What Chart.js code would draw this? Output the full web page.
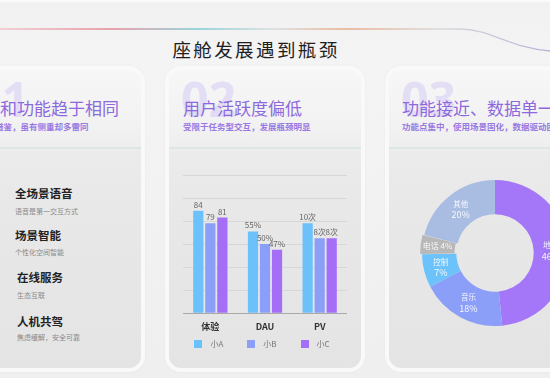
<!DOCTYPE html>
<html>
<head>
<meta charset="utf-8">
<script src="https://cdn.jsdelivr.net/npm/chart.js@4.4.0/dist/chart.umd.min.js"></script>
<style>
  html, body { margin: 0; padding: 0; }
  body {
    width: 550px; height: 378px; overflow: hidden; position: relative;
    background: linear-gradient(to bottom, #ffffff 0px, #f1f1f2 3px, #f4f4f5 60px, #efeff0 378px);
    font-family: "Noto Sans CJK SC", "Noto Sans", sans-serif;
  }
  .abs { position: absolute; white-space: nowrap; line-height: 1; }
  .title { left: 0; width: 512px; text-align: center; top: 40px; font-size: 18.5px; letter-spacing: 2.4px; color: #1e1e1e; }
  .card {
    position: absolute; top: 66px; width: 200px; height: 306px; box-sizing: border-box;
    border: 4px solid #f9f9fa; border-radius: 16px; overflow: hidden;
    background: linear-gradient(to bottom, #f7f7f8 0px, #f1f1f2 60px, #eeeeef 77px, #ebebec 82px, #e8e8e9 140px, #e4e4e5 300px);
    box-shadow: 0 0 3px rgba(0,0,0,0.04);
  }
  .divider { position: absolute; left: 0; right: 0; top: 77px; height: 1.5px; background: #dce7e2; }
  .num { font-family: "Noto Sans", sans-serif; font-weight: 700; font-size: 48px; color: rgba(185,165,245,0.30); }
  .head { font-size: 17px; color: #8d69dd; }
  .sub { font-size: 8.5px; font-weight: 700; color: #9a78e2; }
  .item { font-size: 11.5px; font-weight: 700; color: #222; }
  .desc { font-size: 7px; color: #8a8a8a; }
  canvas { position: absolute; }
</style>
</head>
<body>
<svg class="abs" style="left:0;top:0" width="550" height="70">
  <defs>
    <linearGradient id="lg" x1="0" y1="0" x2="550" y2="0" gradientUnits="userSpaceOnUse">
      <stop offset="0" stop-color="#f2c4cc"/>
      <stop offset="0.2" stop-color="#e58895"/>
      <stop offset="0.36" stop-color="#7fcbd3"/>
      <stop offset="0.5" stop-color="#d8dcdc"/>
      <stop offset="0.63" stop-color="#eaa987"/>
      <stop offset="0.8" stop-color="#dadada"/>
      <stop offset="1" stop-color="#b9b2da"/>
    </linearGradient>
  </defs>
  <path d="M0 29 L460 29 C490 29 510 48 550 51" fill="none" stroke="url(#lg)" stroke-width="1.3"/>
</svg>

<div class="abs title">座舱发展遇到瓶颈</div>

<div class="card" style="left:-55px"><div class="divider"></div></div>
<div class="card" style="left:165px"><div class="divider"></div></div>
<div class="card" style="left:385px"><div class="divider"></div></div>

<div class="abs num" style="left:-26px;top:75px">01</div>
<div class="abs num" style="left:181px;top:75px">02</div>
<div class="abs num" style="left:401px;top:75px">03</div>

<div class="abs head" style="left:0px;top:99px">和功能趋于相同</div>
<div class="abs sub" style="left:-5px;top:122px">借鉴，虽有侧重却多雷同</div>
<div class="abs head" style="left:183px;top:99px">用户活跃度偏低</div>
<div class="abs sub" style="left:183px;top:122px">受限于任务型交互，发展瓶颈明显</div>
<div class="abs head" style="left:402px;top:99px">功能接近、数据单一</div>
<div class="abs sub" style="left:402px;top:122px">功能点集中，使用场景固化，数据驱动困难</div>

<div class="abs item" style="left:15px;top:188px">全场景语音</div>
<div class="abs desc" style="left:15px;top:208px">语音是第一交互方式</div>
<div class="abs item" style="left:15px;top:230px">场景智能</div>
<div class="abs desc" style="left:15px;top:249px">个性化空间智能</div>
<div class="abs item" style="left:17px;top:272px">在线服务</div>
<div class="abs desc" style="left:17px;top:292px">生态互联</div>
<div class="abs item" style="left:17px;top:316px">人机共驾</div>
<div class="abs desc" style="left:17px;top:334px">焦虑缓解，安全可靠</div>

<canvas id="bar" width="200" height="220" style="left:160px;top:160px"></canvas>
<canvas id="pie" width="150" height="150" style="left:420px;top:178px"></canvas>

<script>
// bar chart data
var categories = ['体验', 'DAU', 'PV'];
var seriesNames = ['小A', '小B', '小C'];
var barColors = ['#6cc1fb', '#8b9ff8', '#a56ef6'];
// bar heights as drawn (on a 0-120 scale), and the texts printed above them
var heightA = [89, 71, 78];
var heightB = [78, 60, 65];
var heightC = [83, 55, 65];
var textA = ['84', '55%', '10次'];
var textB = ['79', '50%', '8次'];
var textC = ['81', '47%', '8次'];

// doughnut data
var parts = ['地图', '音乐', '控制', '电话', '其他'];
var shares = [46, 18, 7, 4, 20];
var partColors = ['#a477f8', '#8b9ef8', '#6cc2fb', '#b8b8b8', '#a9bde2'];

Chart.defaults.font.family = '"Noto Sans CJK SC", "Noto Sans", sans-serif';

// small square swatches for the legend
function swatch(color) {
  var c = document.createElement('canvas');
  c.width = 8; c.height = 8;
  var g = c.getContext('2d');
  g.fillStyle = color;
  g.fillRect(0, 0, 8, 8);
  return c;
}

var barTexts = [textA, textB, textC];
var valueLabels = {
  id: 'valueLabels',
  afterDatasetsDraw: function(chart) {
    var ctx = chart.ctx;
    ctx.save();
    ctx.font = '8px "Noto Sans CJK SC", sans-serif';
    ctx.fillStyle = '#666';
    ctx.textAlign = 'center';
    ctx.textBaseline = 'bottom';
    chart.data.datasets.forEach(function(ds, i) {
      chart.getDatasetMeta(i).data.forEach(function(bar, j) {
        ctx.fillText(barTexts[i][j], bar.x, bar.y - 2);
      });
    });
    ctx.restore();
  }
};

// legend sits a little closer to the axis labels than chart.js would put it
var legendLift = {
  id: 'legendLift',
  afterLayout: function(chart) {
    chart.legend.top -= 20;
    chart.legend.bottom -= 20;
  }
};

new Chart(document.getElementById('bar'), {
  type: 'bar',
  data: {
    labels: categories,
    datasets: seriesNames.map(function(name, i) {
      return {
        label: name,
        data: [heightA, heightB, heightC][i],
        backgroundColor: barColors[i],
        pointStyle: swatch(barColors[i])
      };
    })
  },
  options: {
    responsive: false,
    animation: false,
    categoryPercentage: 0.66,
    barPercentage: 0.85,
    layout: { padding: { left: 0, right: 0, top: 15, bottom: 2 } },
    plugins: {
      tooltip: { enabled: false },
      legend: {
        position: 'bottom',
        labels: { usePointStyle: true, pointStyleWidth: 16, padding: 20, color: '#777', font: { size: 8 } }
      }
    },
    scales: {
      y: {
        min: 0, max: 120,
        ticks: { display: false, stepSize: 20 },
        border: { display: false },
        grid: {
          drawTicks: false,
          color: function(c) { return c.tick.value === 0 ? '#a9a9a9' : '#d7d7d7'; }
        },
        afterFit: function(axis) { axis.width = 23; }
      },
      y2: {
        position: 'right',
        ticks: { display: false },
        border: { display: false },
        grid: { display: false, drawTicks: false },
        afterFit: function(axis) { axis.width = 13; }
      },
      x: {
        grid: { display: false, drawTicks: false },
        border: { display: false },
        ticks: { color: '#333', font: { size: 9, weight: 'bold' }, padding: 8 }
      }
    }
  },
  plugins: [valueLabels, legendLift]
});

var arcLabels = {
  id: 'arcLabels',
  afterDatasetsDraw: function(chart) {
    var ctx = chart.ctx;
    ctx.save();
    ctx.fillStyle = 'rgba(255,255,255,0.9)';
    ctx.textAlign = 'center';
    ctx.textBaseline = 'middle';
    chart.getDatasetMeta(0).data.forEach(function(arc, i) {
      var p = arc.tooltipPosition();
      var pct = shares[i] + '%';
      if (parts[i] === '电话') {
        ctx.font = '8px "Noto Sans CJK SC", sans-serif';
        ctx.fillText(parts[i] + ' ' + pct, p.x, p.y);
      } else {
        ctx.font = '7.5px "Noto Sans CJK SC", sans-serif';
        ctx.fillText(parts[i], p.x, p.y - 5);
        ctx.font = '9px "Noto Sans CJK SC", sans-serif';
        ctx.fillText(pct, p.x, p.y + 6);
      }
    });
    ctx.restore();
  }
};

new Chart(document.getElementById('pie'), {
  type: 'doughnut',
  data: {
    labels: parts,
    datasets: [{
      data: shares,
      backgroundColor: partColors,
      borderWidth: 0,
      offset: [0, 0, 0, 4, 0]
    }]
  },
  options: {
    responsive: false,
    animation: false,
    cutout: '53%',
    plugins: { legend: { display: false }, tooltip: { enabled: false } }
  },
  plugins: [arcLabels]
});
</script>
</body>
</html>
